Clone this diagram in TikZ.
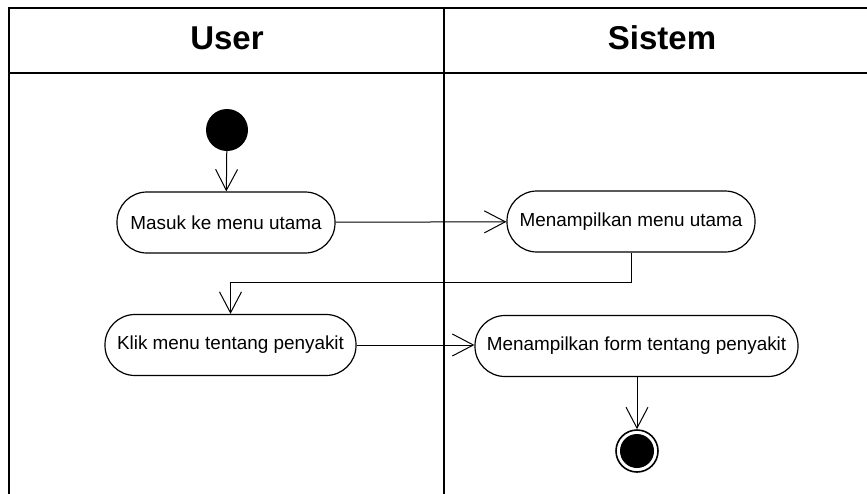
\documentclass[tikz,border=0pt]{standalone}
\usepackage{fontspec}
\setmainfont{Liberation Sans}
\usetikzlibrary{arrows.meta}

\tikzset{
  lane/.style={line width=2pt, line cap=rect},
  lanehead/.style={font=\fontsize{33}{38}\selectfont\bfseries},
  action/.style={draw, line width=1.2pt, rounded corners=30pt, fill=white,
    minimum height=61pt, inner sep=0pt, font=\fontsize{18.9}{23}\selectfont},
  flow/.style={line width=1pt, -{Straight Barb[length=21pt,width=22pt,line width=1pt]}},
  initial/.style={circle, fill=black, minimum size=42pt, inner sep=0pt},
  final/.style={circle, draw, line width=1.6pt, minimum size=42pt, inner sep=0pt,
    path picture={\fill[black] (path picture bounding box.center) circle (17pt);}}
}

\begin{document}
\begin{tikzpicture}[x=1pt, y=-1pt]
  \useasboundingbox (0,0) rectangle (867,493);

  % swimlane frame
  \draw[lane] (867,8) -- (9,8) -- (9,493);
  \draw[lane] (9,73) -- (867,73);
  \draw[lane] (444,8) -- (444,493);

  % lane titles
  \node[lanehead] (user) at (227,38) {User};
  \node[lanehead] (sistem) at (662,38) {Sistem};

  % activities
  \node[initial] (start) at (227,130) {};
  \node[action, minimum width=218pt] (masuk) at (226,222.5) {Masuk ke menu utama};
  \node[action, minimum width=248pt] (tampilmenu) at (631,221.5) {Menampilkan menu utama};
  \node[action, minimum width=251pt] (klik) at (230.5,345) {Klik menu tentang penyakit};
  \node[action, minimum width=323pt] (tampilform) at (636.5,346) {Menampilkan form tentang penyakit};
  \node[final] (end) at (637,451) {};

  % control flow
  \draw[flow] (start) -- (masuk);
  \draw[flow] (masuk) -- (tampilmenu);
  \draw[flow] (tampilmenu.south) -- ++(0,30) -| (klik.north);
  \draw[flow] (klik) -- (klik -| tampilform.west);
  \draw[flow] (tampilform.south -| end) -- (end);
\end{tikzpicture}
\end{document}
